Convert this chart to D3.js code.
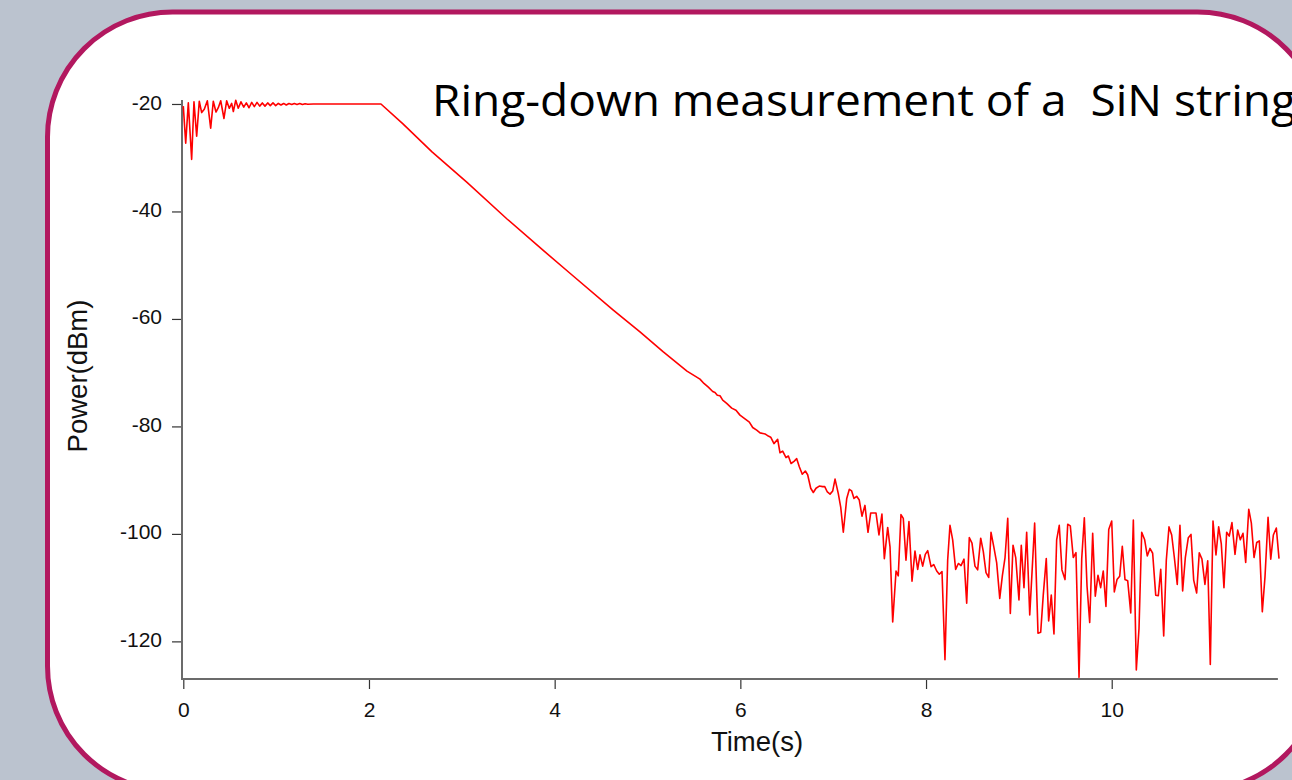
<!DOCTYPE html>
<html>
<head>
<meta charset="utf-8">
<script src="https://cdn.jsdelivr.net/npm/d3@7"></script>
<style>
  html, body { margin: 0; padding: 0; background: #bbc3cf; }
  svg { display: block; }
</style>
</head>
<body>
<svg id="chart" width="1292" height="780"></svg>
<script>
// values: [time (s), power (dBm)]
const ringUp = [
  [0.000, -20.4], [0.026, -27.3], [0.054, -19.8], [0.090, -30.3], [0.115, -19.6],
  [0.144, -26.0], [0.172, -19.5], [0.198, -21.6], [0.226, -21.0], [0.259, -19.4],
  [0.295, -24.5], [0.323, -19.5], [0.352, -21.5], [0.377, -20.7], [0.403, -19.4],
  [0.438, -22.7], [0.467, -19.4], [0.495, -20.8], [0.521, -19.9], [0.539, -21.4],
  [0.565, -19.3], [0.592, -20.8], [0.621, -19.6], [0.651, -20.6], [0.679, -19.8],
  [0.708, -20.7], [0.737, -19.7], [0.765, -20.5], [0.794, -19.7], [0.823, -20.4],
  [0.851, -19.8], [0.880, -20.4], [0.909, -19.8], [0.937, -20.3], [0.966, -19.8],
  [0.995, -20.3], [1.023, -19.9], [1.052, -20.2], [1.081, -19.9], [1.109, -20.2],
  [1.138, -19.9], [1.168, -20.1], [1.196, -19.9], [1.225, -20.1], [1.254, -19.9],
  [1.283, -20.1], [1.312, -19.95], [1.341, -20.05], [1.400, -20.0], [2.129, -20.0]
];

const decay = [
  [2.366, -23.7], [2.679, -28.9], [3.056, -34.6], [3.487, -41.4], [3.874, -47.2],
  [4.165, -51.5], [4.628, -58.3], [4.919, -62.4], [5.167, -66.1], [5.425, -69.7],
  [5.565, -71.2], [5.608, -72.0], [5.655, -72.7], [5.702, -73.5], [5.727, -73.7],
  [5.752, -74.2], [5.781, -74.3], [5.810, -75.1], [5.853, -75.7], [5.907, -76.6],
  [5.953, -77.0], [5.996, -77.9], [6.050, -78.6], [6.097, -79.2], [6.133, -80.2],
  [6.176, -80.7], [6.212, -81.2], [6.266, -81.4], [6.301, -81.8], [6.327, -82.0],
  [6.362, -83.2], [6.402, -82.4], [6.427, -84.9], [6.456, -84.6], [6.492, -85.8],
  [6.517, -85.5], [6.546, -86.9], [6.578, -86.5], [6.607, -86.0], [6.635, -87.5],
  [6.667, -88.9], [6.700, -88.3], [6.725, -89.0], [6.758, -91.5], [6.786, -92.3],
  [6.815, -91.5], [6.850, -91.1], [6.887, -91.2], [6.909, -91.2], [6.937, -92.2],
  [6.966, -92.6], [6.995, -92.0], [7.020, -89.8], [7.055, -92.5], [7.081, -95.0],
  [7.109, -99.7], [7.146, -93.4], [7.174, -91.7], [7.199, -92.0], [7.224, -93.4],
  [7.253, -93.0], [7.281, -93.7], [7.310, -96.7], [7.342, -94.7], [7.375, -99.7],
  [7.404, -96.1], [7.461, -96.1], [7.493, -100.2], [7.525, -96.3]
];

const noiseFloor = [
  [7.551, -104.6], [7.587, -98.8], [7.612, -102.4], [7.641, -116.4], [7.677, -106.9],
  [7.701, -107.8], [7.730, -96.4], [7.755, -97.1], [7.784, -104.9], [7.816, -97.7],
  [7.849, -108.8], [7.881, -103.2], [7.910, -106.6], [7.935, -103.9], [7.964, -106.0],
  [7.992, -103.8], [8.018, -103.1], [8.054, -106.1], [8.083, -105.7], [8.115, -106.9],
  [8.143, -107.5], [8.172, -107.0], [8.204, -123.4], [8.233, -104.9], [8.258, -98.4],
  [8.287, -101.1], [8.319, -106.6], [8.348, -105.5], [8.377, -105.9], [8.409, -104.7],
  [8.438, -112.9], [8.466, -100.7], [8.495, -101.7], [8.527, -106.0], [8.556, -106.7],
  [8.589, -100.8], [8.617, -103.3], [8.646, -107.2], [8.675, -108.1], [8.700, -99.7],
  [8.732, -102.6], [8.761, -105.4], [8.794, -112.0], [8.822, -107.8], [8.851, -104.4],
  [8.880, -97.1], [8.908, -114.8], [8.937, -102.1], [8.966, -104.4], [9.001, -112.3],
  [9.026, -102.1], [9.055, -110.0], [9.084, -99.7], [9.117, -115.1], [9.170, -98.0],
  [9.206, -118.5], [9.235, -118.3], [9.263, -111.3], [9.295, -104.6], [9.321, -116.2],
  [9.349, -111.4], [9.378, -118.6], [9.407, -101.1], [9.435, -98.4], [9.464, -106.7],
  [9.497, -108.5], [9.526, -98.2], [9.554, -98.5], [9.586, -104.4], [9.615, -103.5],
  [9.648, -126.7], [9.677, -104.6], [9.705, -97.0], [9.734, -109.7], [9.763, -116.5],
  [9.795, -99.9], [9.823, -111.6], [9.852, -107.7], [9.881, -110.0], [9.909, -106.9],
  [9.938, -113.5], [9.968, -99.2], [10.000, -97.6], [10.028, -110.8], [10.057, -108.5],
  [10.086, -107.9], [10.114, -102.3], [10.143, -108.5], [10.172, -108.7], [10.205, -114.7],
  [10.233, -97.4], [10.265, -125.3], [10.294, -117.6], [10.323, -99.7], [10.355, -101.1],
  [10.383, -104.1], [10.412, -102.7], [10.441, -103.6], [10.474, -111.4], [10.502, -111.5],
  [10.528, -106.6], [10.560, -119.0], [10.588, -104.9], [10.617, -98.7], [10.646, -100.2],
  [10.674, -104.3], [10.706, -109.4], [10.735, -98.4], [10.764, -110.6], [10.793, -104.4],
  [10.825, -100.7], [10.854, -100.1], [10.883, -108.6], [10.915, -111.0], [10.943, -103.5],
  [10.972, -104.7], [11.004, -109.4], [11.034, -105.0], [11.062, -124.3], [11.091, -97.6],
  [11.123, -103.9], [11.152, -98.7], [11.180, -101.8], [11.209, -110.0], [11.238, -99.7],
  [11.266, -100.4], [11.295, -97.9], [11.328, -103.8], [11.357, -99.3], [11.385, -101.1],
  [11.414, -99.9], [11.443, -105.3], [11.476, -95.4], [11.504, -98.0], [11.533, -104.4],
  [11.562, -101.6], [11.590, -101.3], [11.622, -114.5], [11.651, -108.0], [11.684, -96.9],
  [11.713, -104.7], [11.741, -100.2], [11.773, -98.9], [11.802, -104.6]
];

const xTicks = [0, 2, 4, 6, 8, 10];
const yTicks = [-20, -40, -60, -80, -100, -120];
const xDomain = [0, 11.79];
const yDomain = [-127, -19.26];

const titleText = "Ring-down measurement of a  SiN string";
const xLabel = "Time(s)";
const yLabel = "Power(dBm)";

const svg = d3.select("#chart");

// slide background + rounded white card
svg.append("rect")
  .attr("width", 1292).attr("height", 780)
  .attr("fill", "#bbc3cf");

svg.append("rect")
  .attr("x", 47.5).attr("y", 12)
  .attr("width", 1275).attr("height", 779)
  .attr("rx", 125).attr("ry", 125)
  .attr("fill", "#ffffff")
  .attr("stroke", "#b2185f")
  .attr("stroke-width", 5);

const x = d3.scaleLinear().domain(xDomain).range([183.3, 1277.9]);
const y = d3.scaleLinear().domain(yDomain).range([679, 100]);

const tickFont = "'Liberation Sans', Arial, sans-serif";

// x axis
const gx = svg.append("g")
  .attr("transform", "translate(0,679)")
  .call(d3.axisBottom(x).tickValues(xTicks).tickSize(10).tickSizeOuter(0)
    .tickPadding(13).tickFormat((d) => String(d)));
gx.select(".domain").remove();
gx.selectAll(".tick line").attr("stroke", "#333").attr("stroke-width", 1.2);
gx.selectAll(".tick text")
  .attr("font-family", tickFont).attr("font-size", 21).attr("fill", "#111");

// y axis
const gy = svg.append("g")
  .attr("transform", "translate(182,0)")
  .call(d3.axisLeft(y).tickValues(yTicks).tickSize(10).tickSizeOuter(0)
    .tickPadding(10).tickFormat((d) => String(d)));
gy.select(".domain").remove();
gy.selectAll(".tick line").attr("stroke", "#333").attr("stroke-width", 1.2);
gy.selectAll(".tick text")
  .attr("font-family", tickFont).attr("font-size", 21).attr("fill", "#111")
  .attr("dy", "0.24em");

// axis lines (grey, a bit heavier than ticks)
svg.append("line")
  .attr("x1", 181).attr("x2", x(xDomain[1]))
  .attr("y1", 679).attr("y2", 679)
  .attr("stroke", "#6b6b6b").attr("stroke-width", 2);
svg.append("line")
  .attr("x1", 182).attr("x2", 182)
  .attr("y1", y(yDomain[1])).attr("y2", 680)
  .attr("stroke", "#6b6b6b").attr("stroke-width", 2);

// the ring-down trace
const trace = ringUp.concat(decay, noiseFloor);
const line = d3.line()
  .x((d) => x(d[0]))
  .y((d) => y(d[1]));

svg.append("path")
  .datum(trace)
  .attr("d", line)
  .attr("fill", "none")
  .attr("stroke", "#ff0000")
  .attr("stroke-width", 1.6)
  .attr("stroke-linejoin", "round");

// axis titles
svg.append("text")
  .attr("x", 757).attr("y", 751)
  .attr("text-anchor", "middle")
  .attr("font-family", tickFont).attr("font-size", 27.5).attr("fill", "#111")
  .text(xLabel);

svg.append("text")
  .attr("transform", "translate(87,376) rotate(-90)")
  .attr("text-anchor", "middle")
  .attr("font-family", tickFont).attr("font-size", 27.5).attr("fill", "#111")
  .text(yLabel);

// slide title, runs off the right edge like the original
svg.append("text")
  .attr("x", 432).attr("y", 116)
  .attr("font-family", "'Open Sans', 'Noto Sans', sans-serif")
  .attr("font-size", 44)
  .attr("fill", "#000")
  .style("white-space", "pre")
  .attr("textLength", 864)
  .attr("lengthAdjust", "spacingAndGlyphs")
  .text(titleText);
</script>
</body>
</html>
